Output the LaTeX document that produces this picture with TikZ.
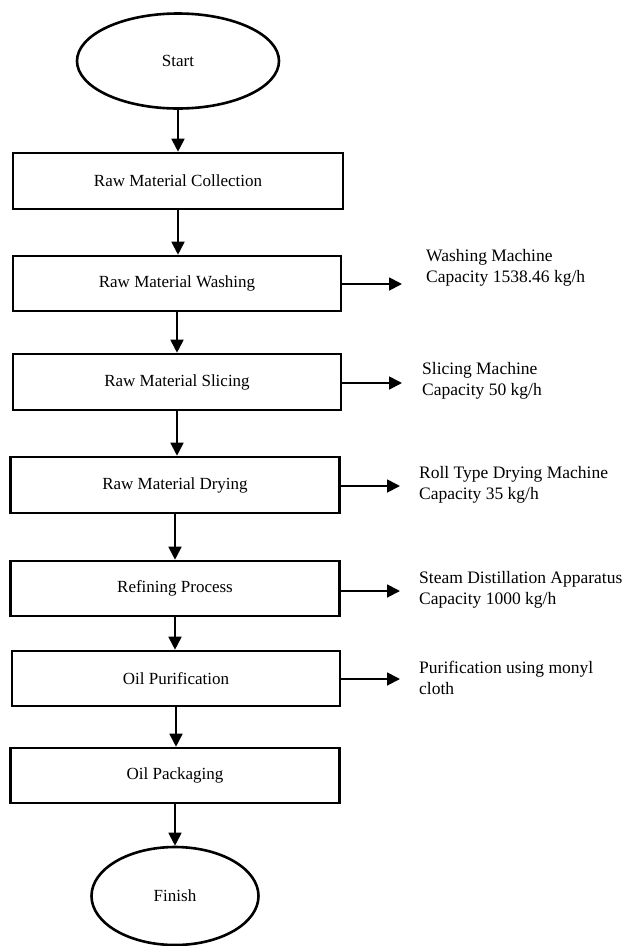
\documentclass[tikz,border=0pt]{standalone}
\usepackage{fontspec}
\setmainfont{Liberation Serif}
\usetikzlibrary{shapes.geometric,arrows.meta}
\begin{document}
\begin{tikzpicture}[x=1pt,y=-1pt,
  stepbox/.style={draw,line width=2.6pt,minimum width=328pt,minimum height=55pt,inner sep=0pt,font=\fontsize{17}{20}\selectfont},
  term/.style={draw,ellipse,line width=2.6pt,inner sep=0pt,font=\fontsize{17}{20}\selectfont},
  arr/.style={line width=1.8pt,-{Triangle[length=13pt,width=13pt]}},
  note/.style={anchor=west,align=left,inner sep=0pt,font=\fontsize{17.5}{21}\selectfont}]
\useasboundingbox (0,0) rectangle (627,946);
\node[term,minimum width=202pt,minimum height=95pt] (start) at (178,61) {Start};
\node[stepbox,minimum width=330pt,minimum height=56pt] (coll) at (178,181) {Raw Material Collection};
\node[stepbox] (wash) at (177,283.5) {Raw Material Washing};
\node[stepbox,minimum height=56pt] (slic) at (177,382) {Raw Material Slicing};
\node[stepbox,minimum width=329pt,minimum height=56pt] (dry) at (175,485) {Raw Material Drying};
\node[stepbox,minimum width=329pt] (ref) at (175,588.5) {Refining Process};
\node[stepbox] (pur) at (176,678.5) {Oil Purification};
\node[stepbox,minimum width=329pt] (pack) at (175,775.5) {Oil Packaging};
\node[term,minimum width=167pt,minimum height=98pt] (fin) at (175,896) {Finish};

\draw[arr] (start.south) -- (start.south |- coll.north);
\draw[arr] (coll.south) -- (coll.south |- wash.north);
\draw[arr] (wash.south) -- (wash.south |- slic.north);
\draw[arr] (slic.south) -- (slic.south |- dry.north);
\draw[arr] (dry.south) -- (dry.south |- ref.north);
\draw[arr] (ref.south) -- (ref.south |- pur.north);
\draw[arr] (pur.south) -- (pur.south |- pack.north);
\draw[arr] (pack.south) -- (pack.south |- fin.north);

\node[note] (n1) at (426,267.5) {Washing Machine\\Capacity 1538.46 kg/h};
\node[note] (n2) at (422,380.5) {Slicing Machine\\Capacity 50 kg/h};
\node[note] (n3) at (419,485) {Roll Type Drying Machine\\Capacity 35 kg/h};
\node[note] (n4) at (419,589.5) {Steam Distillation Apparatus\\Capacity 1000 kg/h};
\node[note] (n5) at (419,677.5) {Purification using monyl\\cloth};

\coordinate (e1) at (402,284);
\coordinate (e2) at (402,383);
\coordinate (e3) at (400,486);
\coordinate (e4) at (400,591);
\coordinate (e5) at (400,679);
\draw[arr] (wash.east |- e1) -- (e1);
\draw[arr] (slic.east |- e2) -- (e2);
\draw[arr] (dry.east |- e3) -- (e3);
\draw[arr] (ref.east |- e4) -- (e4);
\draw[arr] (pur.east |- e5) -- (e5);
\end{tikzpicture}
\end{document}
